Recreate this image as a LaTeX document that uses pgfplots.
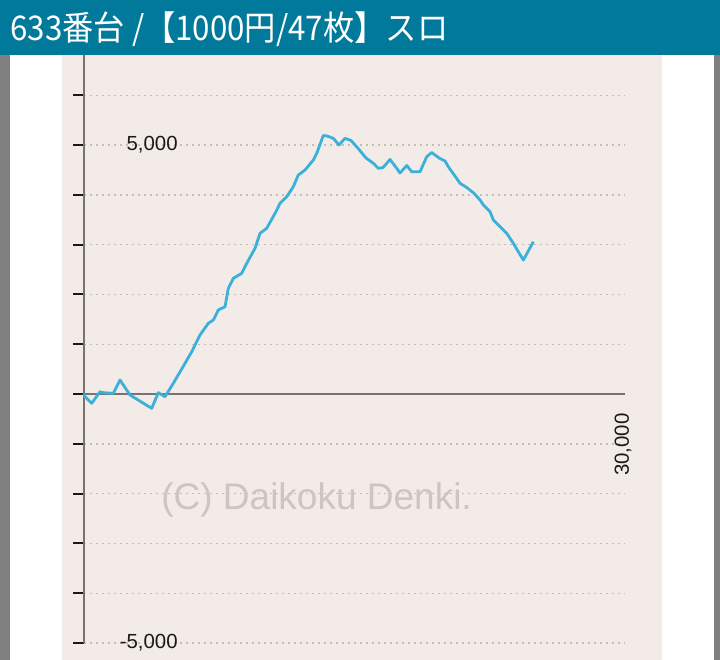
\documentclass[border=0pt]{standalone}
\usepackage{fontspec}
\setmainfont{Liberation Sans}
\newfontfamily\cjk{Noto Sans CJK JP}
\usepackage{pgfplots}
\pgfplotsset{compat=1.18}
\definecolor{barteal}{RGB}{0,121,155}
\definecolor{sidegray}{RGB}{128,128,128}
\definecolor{panel}{RGB}{243,235,231}
\definecolor{lineblue}{RGB}{58,176,218}
\definecolor{axgray}{RGB}{120,114,112}
\definecolor{gridgray}{RGB}{196,190,187}
\definecolor{wmgray}{RGB}{204,197,193}

\begin{document}
\begin{tikzpicture}
\useasboundingbox (0,0) rectangle (360pt,-330pt);
% page background
\fill[white] (0,0) rectangle (360pt,-330pt);
\fill[sidegray] (0,0) rectangle (5pt,-330pt);
\fill[sidegray] (357pt,0) rectangle (360pt,-330pt);
\fill[panel] (31pt,0) rectangle (331pt,-330pt);

\begin{axis}[
    scale only axis,
    width=270.5pt, height=298.8pt,
    at={(42pt,-321.5pt)}, anchor=south west,
    xmin=0, xmax=30000,
    ymin=-5000, ymax=7000,
    axis x line*=middle,
    axis y line*=left,
    axis line style={draw=axgray, line width=1pt},
    xtick=\empty,
    ytick={-5000,-4000,...,6000},
    yticklabels=\empty,
    tick align=outside,
    major tick length=5.5pt,
    y tick style={draw=black!90, line width=1pt},
    ymajorgrids,
    grid style={draw=gridgray, line width=0.7pt, dash pattern=on 1pt off 2pt},
    clip=false,
]

% watermark
\node[text=wmgray, font=\fontsize{18.5}{20}\selectfont] at (axis cs:12900,-2128) {(C) Daikoku Denki.};

% difference curve
\addplot[color=lineblue, line width=1.4pt, line join=round] coordinates {
    (0,0) (55,-54) (427,-187) (887,46) (1070,26) (1625,14) (1997,281)
    (2551,-20) (3755,-287) (4121,26) (4492,-54) (4953,215) (5601,616)
    (5973,849) (6433,1185) (6894,1420) (7171,1486) (7448,1687) (7820,1753)
    (8003,2122) (8280,2323) (8746,2424) (9023,2624) (9484,2926) (9761,3227)
    (10132,3327) (10593,3628) (10870,3829) (11242,3962) (11608,4163)
    (11885,4398) (12257,4498) (12717,4699) (12906,4833) (13272,5191)
    (13477,5181) (13826,5134) (14142,5000) (14475,5134) (14808,5090)
    (15196,4934) (15640,4739) (16044,4633) (16322,4532) (16583,4548)
    (16971,4709) (17343,4532) (17525,4438) (17897,4588) (18174,4464)
    (18635,4464) (19006,4765) (19284,4849) (19716,4733) (20021,4679)
    (20204,4564) (20631,4347) (20853,4231) (21225,4147) (21629,4030)
    (21962,3896) (22145,3795) (22517,3661) (22700,3494) (23071,3359)
    (23443,3227) (23809,3026) (24086,2857) (24364,2691) (24918,3058)
};

\node[anchor=east, inner sep=0pt, font=\fontsize{10.2}{12}\selectfont, text=black!90] at (axis cs:5213,5000) {5,000};
\node[anchor=east, inner sep=0pt, font=\fontsize{10.2}{12}\selectfont, text=black!90] at (axis cs:5213,-5000) {-5,000};
\node[anchor=east, inner sep=0pt, rotate=90, font=\fontsize{10.2}{12}\selectfont, text=black!90] at (axis cs:29890,-381) {30,000};
\end{axis}

% title bar
\fill[barteal] (0,0) rectangle (360pt,-27.3pt);
\node[anchor=base west, inner sep=0pt, xscale=0.92, text=white, font=\cjk\fontsize{17}{20}\selectfont] at (5pt,-20pt) {633番台 /【1000円/47枚】スロ};
\end{tikzpicture}
\end{document}
